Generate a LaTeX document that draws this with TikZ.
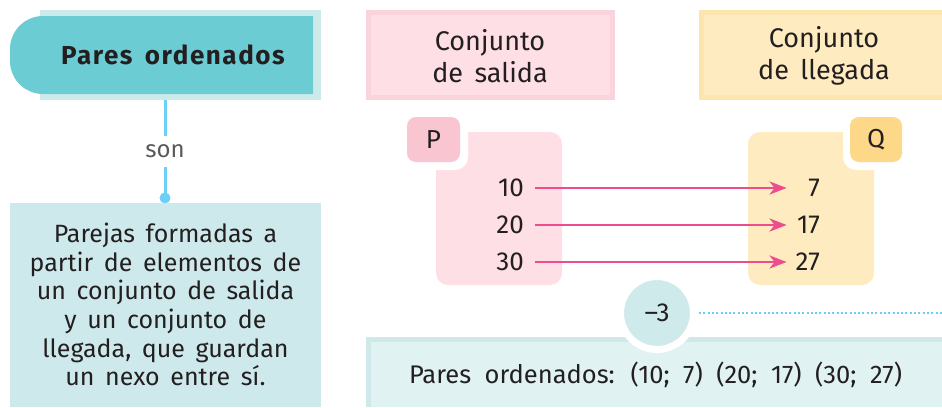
\documentclass[tikz,border=0pt]{standalone}
\usepackage{fontspec}
\setmainfont{Fira Sans}[WordSpace=1.6]
\newfontfamily\titlefont{Fira Sans}[LetterSpace=6,WordSpace=1.6]
\newfontfamily\widefont{Fira Sans}[WordSpace=2.0]
\usetikzlibrary{arrows.meta}
\definecolor{titleteal}{HTML}{6CCCD3}
\definecolor{titleframe}{HTML}{CDEAEB}
\definecolor{leftbox}{HTML}{CEE9EB}
\definecolor{conncol}{HTML}{6DCFF5}
\definecolor{pinkframe}{HTML}{F9D4DC}
\definecolor{pinkfill}{HTML}{FDDFE5}
\definecolor{pinktab}{HTML}{F9C5D1}
\definecolor{yellowframe}{HTML}{FDE5AE}
\definecolor{yellowfill}{HTML}{FEEBC0}
\definecolor{yellowtab}{HTML}{FED889}
\definecolor{arrowpink}{HTML}{EE4D8D}
\definecolor{circfill}{HTML}{CFEAEB}
\definecolor{botframe}{HTML}{CFE9EA}
\definecolor{botfill}{HTML}{E0F2F2}
\definecolor{textdark}{HTML}{231F20}
\definecolor{songray}{HTML}{58595B}
\tikzset{
  txt/.style={text=textdark, inner sep=0pt},
  num/.style={txt, font=\fontsize{26}{30}\selectfont},
  conn/.style={draw=conncol, line width=3pt},
  arr/.style={draw=arrowpink, line width=2.8pt, -{Stealth[length=17pt,width=13pt,inset=5pt]}},
  dotline/.style={draw=conncol, line width=2pt, dash pattern=on 2pt off 2.3pt},
}
\begin{document}
\begin{tikzpicture}[x=1pt,y=-1pt]
\useasboundingbox (0,0) rectangle (942,407);
% title
\fill[titleframe] (40,10) rectangle (321,100);
\fill[titleteal] (43,16) .. controls (24.8,16) and (10,30.8) .. (10,49)
  -- (10,61) .. controls (10,79.2) and (24.8,94) .. (43,94)
  -- (313,94) -- (313,16) -- cycle;
\node[txt, font=\titlefont\bfseries\fontsize{26}{30}\selectfont] (title) at (173,55) {Pares ordenados};
% connector
\coordinate (tb) at (165,100);
\node[txt, text=songray, font=\fontsize{24}{28}\selectfont, minimum height=30pt] (son) at (165,151.5) {son};
\coordinate (dot) at (165,198);
\draw[conn] (tb) -- (son.north);
\draw[conn] (son.south) -- (dot);
\fill[conncol] (dot) circle (5.5);
% left box
\fill[leftbox] (10,203) rectangle (321,407);
\node[txt, align=center, font=\fontsize{25}{28.7}\selectfont] (def) at (165.5,304.5)
 {Parejas formadas a\\partir de elementos de\\un conjunto de salida\\y un conjunto de\\llegada, que guardan\\un nexo entre sí.};
% headers
\fill[pinkframe] (366,10) rectangle (615,100);
\fill[pinkfill] (371,15) rectangle (610,95);
\node[txt, align=center, font=\fontsize{27}{32}\selectfont] (salida) at (490,56) {Conjunto\\de salida};
\fill[yellowframe] (699,10) rectangle (942,100);
\fill[yellowfill] (704,15) rectangle (942,95);
\node[txt, align=center, font=\fontsize{27}{32}\selectfont] (llegada) at (824,56) {Conjunto\\de llegada};
% set P
\fill[pinkfill, rounded corners=12pt] (436,132) rectangle (562,285);
\fill[white, rounded corners=13pt] (400,110) rectangle (468,170);
\fill[pinktab, rounded corners=9pt] (407,117) rectangle (460,162);
\node[num] (Plab) at (433.5,139.5) {P};
% set Q
\fill[yellowfill, rounded corners=12pt] (748,132) rectangle (874,285);
\fill[white, rounded corners=13pt] (843,110) rectangle (910,170);
\fill[yellowtab, rounded corners=9pt] (850,117) rectangle (902,162);
\node[num] (Qlab) at (876,139.5) {Q};
% numbers
\node[num, anchor=east] (p10) at (524,188) {10};
\node[num, anchor=east] (p20) at (524,225) {20};
\node[num, anchor=east] (p30) at (524,262) {30};
\node[num, anchor=east, text width=25pt, align=right] (q7) at (820,188) {7};
\node[num, anchor=east, text width=25pt, align=right] (q17) at (820,225) {17};
\node[num, anchor=east, text width=25pt, align=right] (q27) at (820,262) {27};
\draw[arr] ([xshift=11pt]p10.east) -- ([xshift=-8pt]q7.west);
\draw[arr] ([xshift=11pt]p20.east) -- ([xshift=-8pt]q17.west);
\draw[arr] ([xshift=11pt]p30.east) -- ([xshift=-8pt]q27.west);
% bottom box
\fill[botframe] (366,337) rectangle (942,407);
\fill[botfill] (371,342) rectangle (942,407);
\node[txt, font=\widefont\fontsize{25.5}{28}\selectfont] (pairs) at (655.5,375) {Pares ordenados: (10; 7) (20; 17) (30; 27)};
% circle
\node[circle, fill=circfill, draw=white, line width=7pt, minimum size=73pt, inner sep=0pt, outer sep=0pt,
      text=textdark, font=\fontsize{26}{30}\selectfont] (m3) at (657,313) {–3};
\coordinate (dotend) at (942,313);
\draw[dotline] ([xshift=5.5pt]m3.east) -- (dotend);
\end{tikzpicture}
\end{document}
